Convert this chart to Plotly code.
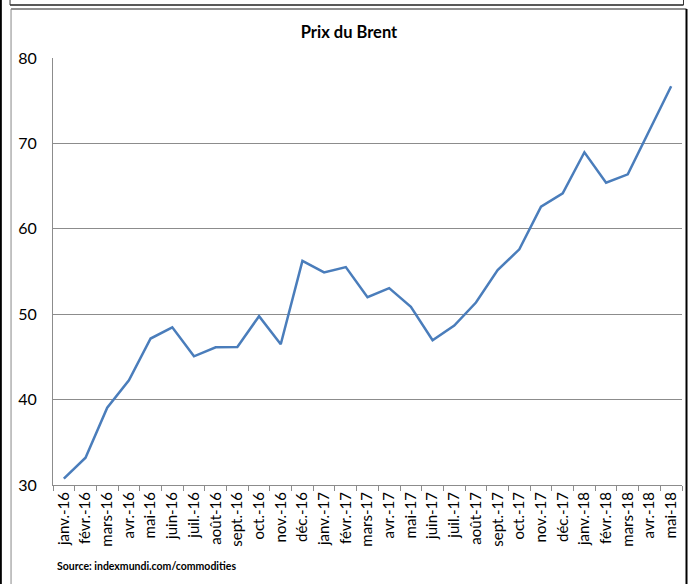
import plotly.graph_objects as go

months = ["janv.-16", "févr.-16", "mars-16", "avr.-16", "mai-16", "juin-16", "juil.-16",
          "août-16", "sept.-16", "oct.-16", "nov.-16", "déc.-16", "janv.-17", "févr.-17",
          "mars-17", "avr.-17", "mai-17", "juin-17", "juil.-17", "août-17", "sept.-17",
          "oct.-17", "nov.-17", "déc.-17", "janv.-18", "févr.-18", "mars-18", "avr.-18",
          "mai-18"]
brent = [30.74, 33.2, 39.06, 42.26, 47.15, 48.47, 45.07, 46.13, 46.17, 49.77, 46.48,
         56.25, 54.89, 55.51, 51.99, 53.05, 50.86, 46.95, 48.67, 51.37, 55.16, 57.6,
         62.6, 64.15, 68.96, 65.4, 66.38, 71.6, 76.7]
y_ticks = [30, 40, 50, 60, 70, 80]

FONT = "Lato, sans-serif"

W, H = 692, 584
L, R, T, B = 53, 682.5, 58, 485

def px(x):
    return (x - L) / (R - L)

def py(y):
    return (B - y) / (B - T)

fig = go.Figure(go.Scatter(x=months, y=brent, mode="lines", hoverinfo="skip",
                           line=dict(color="#4a7dbb", width=2.5)))

def seg(x0, y0, x1, y1, color, width):
    return dict(type="line", xref="paper", yref="paper",
                x0=px(x0), x1=px(x1), y0=py(y0), y1=py(y1),
                line=dict(color=color, width=width), layer="above")

shapes = [
    seg(0.8, 0, 0.8, 584, "black", 2),
    seg(10, 5, 684, 5, "#222", 1.5),
    seg(10, 0, 10, 5, "#333", 1),
    seg(684, 0, 684, 5, "#333", 1),
    seg(11, 9, 687, 9, "#222", 1.2),
    seg(11, 9, 11, 584, "#888", 1),
    seg(687, 9, 687, 584, "black", 2),
]

fig.update_layout(
    width=W, height=H,
    margin=dict(l=L, r=W - R, t=T, b=H - B, autoexpand=False),
    paper_bgcolor="white", plot_bgcolor="white",
    showlegend=False,
    title=dict(text="<b>Prix du Brent</b>", x=349 / W, xref="container", xanchor="center",
               y=1 - 32 / H, yref="container", yanchor="middle", automargin=False,
               font=dict(family=FONT, size=16.5, color="black")),
    font=dict(family=FONT, color="black"),
    xaxis=dict(type="category", tickangle=-90, tickfont=dict(size=15, family=FONT),
               showline=True, linecolor="#8c8c8c", linewidth=1, automargin=False,
               ticks="outside", tickson="boundaries", ticklen=5, tickcolor="#8c8c8c",
               showgrid=False, range=[-0.5, len(months) - 0.5], fixedrange=True),
    yaxis=dict(range=[30, 80], tickvals=y_ticks, tickfont=dict(size=16, family=FONT),
               showline=True, linecolor="#8c8c8c", linewidth=1, automargin=False,
               showgrid=True, gridcolor="#8c8c8c", gridwidth=1, fixedrange=True,
               zeroline=False, ticks="", ticklabelstandoff=12),
    shapes=shapes,
    annotations=[dict(text="<b>Source: indexmundi.com/commodities</b>", xref="paper", yref="paper",
                      x=px(55), y=py(566), xanchor="left", yanchor="middle", showarrow=False,
                      font=dict(family=FONT, size=10.5, color="black"))],
)

fig.write_html("out.html", config={"displayModeBar": False},
               post_script="document.body.style.margin='0px';document.body.style.overflow='hidden';")
